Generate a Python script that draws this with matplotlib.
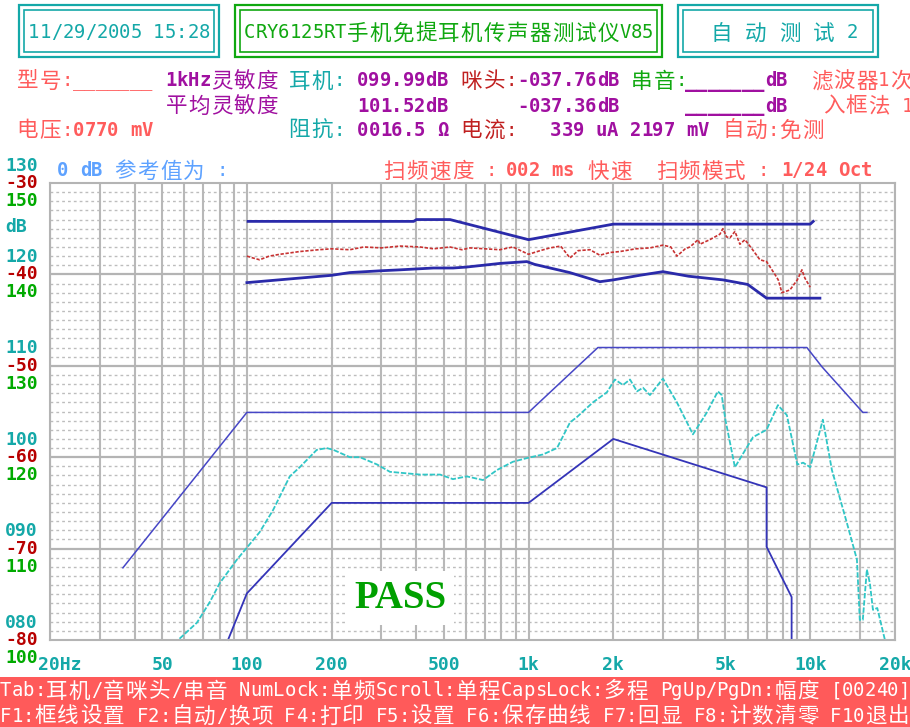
import matplotlib.pyplot as plt
import matplotlib.transforms as mtransforms
from matplotlib.patches import Rectangle

W, H = 910, 727
CW = 11.375  # width of one text cell (screen is 80 columns wide)

# colours of the tester screen
CYAN = '#14a8a8'
GREEN = '#10a810'
PURPLE = '#a010a0'
SALMON = '#ff5c5c'
DARKRED = '#c02020'
LIGHTBLUE = '#5ea2ff'

# upper band (sensitivity), levels on the red dB scale
top_hi_f = [101, 391, 400, 526, 1000, 2000, 10000, 10250]
top_hi_db = [-34.2, -34.2, -34.0, -34.0, -36.2, -34.5, -34.5, -34.2]
top_lo_f = [100, 200, 232, 300, 350, 460, 540, 600, 690, 791, 986, 1050, 1400, 1791,
            2000, 2480, 3000, 3700, 4900, 6000, 7000, 10825]
top_lo_db = [-40.9, -40.1, -39.8, -39.6, -39.5, -39.3, -39.3, -39.2, -39.0, -38.8, -38.6,
             -38.9, -39.8, -40.8, -40.6, -40.1, -39.7, -40.2, -40.6, -41.1, -42.6, -42.6]
red_f = [100, 105, 111, 120, 131, 154, 180, 200, 232, 260, 300, 350, 412, 460, 526, 580,
         619, 700, 791, 880, 1000, 1100, 1192, 1300, 1403, 1500, 1652, 1791, 1950, 2110,
         2400, 2698, 3000, 3200, 3363, 3600, 3741, 4000, 4059, 4400, 4780, 4898, 5050,
         5188, 5404, 5630, 5865, 6211, 6630, 7000, 7493, 7700, 7935, 8473, 9000, 9345,
         9571, 10000]
red_db = [-38.0, -38.2, -38.4, -38.0, -37.8, -37.5, -37.3, -37.2, -37.3, -37.0, -37.1,
          -36.9, -37.0, -37.2, -37.0, -37.3, -37.1, -37.2, -37.3, -37.0, -37.8, -37.4,
          -37.1, -36.9, -38.2, -37.4, -37.3, -37.9, -37.6, -37.5, -37.2, -37.1, -36.8,
          -37.0, -38.0, -37.2, -37.0, -36.2, -36.7, -36.2, -35.6, -35.0, -35.9, -36.0,
          -35.3, -36.7, -36.2, -37.2, -38.4, -38.6, -40.0, -40.6, -42.0, -41.7, -40.6,
          -39.5, -40.4, -41.4]

# lower band (frequency response)
hi2_f = [36.3, 100, 1000, 1763, 9730, 11000, 15380, 15890]
hi2_db = [-72.1, -55.1, -55.1, -48.0, -48.0, -50.1, -55.1, -55.1]
lo2_f = [85.7, 100, 200, 1000, 2000, 7000, 7000, 8590, 8590]
lo2_db = [-80.0, -74.9, -65.0, -65.0, -58.0, -63.3, -69.8, -75.3, -80.0]
cyan_f = [20, 57, 66.5, 74, 80, 92.2, 100, 111, 123.8, 142, 154, 177, 192, 203, 232, 252,
          290, 322, 350, 412, 485, 539, 604, 689, 773, 880, 986, 1125, 1262, 1403, 1486,
          1693, 1897, 2026, 2164, 2292, 2426, 2548, 2698, 3000, 3363, 3834, 4297, 4700,
          4850, 5000, 5404, 5962, 6270, 7000, 7680, 8263, 9000, 9440, 10000, 11090, 11940,
          13500, 14650, 15000, 15370, 15890, 16290, 16700, 17300, 18420, 20000]
cyan_db = [-80.0, -80.0, -78.1, -75.8, -73.8, -71.2, -69.9, -68.2, -65.8, -62.1, -61.1,
           -59.2, -59.0, -59.2, -60.0, -60.0, -60.8, -61.6, -61.7, -61.9, -61.9, -62.4,
           -62.1, -62.5, -61.4, -60.5, -60.1, -59.7, -59.0, -56.2, -55.6, -54.0, -52.9,
           -51.5, -52.1, -51.5, -52.8, -52.4, -53.2, -51.4, -54.0, -57.5, -55.1, -52.8,
           -53.2, -55.9, -61.1, -58.9, -57.8, -57.0, -54.3, -55.4, -60.8, -60.6, -61.1,
           -55.9, -61.4, -67.2, -71.2, -77.8, -77.8, -72.3, -73.8, -76.7, -76.5, -80.0,
           -80.0]

# axis labels
level_ticks = [-30, -40, -50, -60, -70, -80]
cyan_labels = ['130', '120', '110', '100', '090', '080']
red_labels = ['-30', '-40', '-50', '-60', '-70', '-80']
green_labels = ['150', '140', '130', '120', '110', '100']
freq_ticks = [20, 50, 100, 200, 500, 1000, 2000, 5000, 10000, 20000]
freq_labels = ['20Hz', '50', '100', '200', '500', '1k', '2k', '5k', '10k', '20k']

grid_f = ([20, 30, 40, 50, 60, 70, 80, 90] + [f * 10 for f in range(10, 100, 10)]
          + [f * 100 for f in range(10, 100, 10)] + [10000, 15000, 20000])

fig = plt.figure(figsize=(W / 100, H / 100), dpi=100)

# the plot area
ax = fig.add_axes([50 / W, (H - 640) / H, 845 / W, 457 / H])
ax.set_xscale('log')
ax.set_xlim(20, 20000)
ax.set_ylim(-80, -30)
ax.set_xticks([])
ax.set_yticks([])
ax.minorticks_off()
for s in ax.spines.values():
    s.set_color('#b4b4b4')
    s.set_linewidth(1.5)

for v in range(-79, -30):
    if v % 10:
        ax.axhline(v, color='#bdbdbd', lw=1.0, ls=(0, (2, 2.2)))
for f in grid_f:
    ax.axvline(f, color='#b8b8b8', lw=1.5)
for v in level_ticks[1:-1]:
    ax.axhline(v, color='#b4b4b4', lw=1.6)

ax.plot(top_hi_f, top_hi_db, color='#2a2aaa', lw=2, clip_on=False)
ax.plot(top_lo_f, top_lo_db, color='#2a2aaa', lw=2, clip_on=False)
ax.plot(red_f, red_db, color='#c83232', lw=1.2, ls=(0, (2, 1)))
ax.plot(hi2_f, hi2_db, color='#4646c6', lw=1.1, clip_on=False)
ax.plot(lo2_f, lo2_db, color='#3434b8', lw=1.3, clip_on=False)
ax.plot(cyan_f, cyan_db, color='#30c6c6', lw=1.3, ls=(0, (3, 1)), clip_on=False)

# left scales: cyan above, red on, green below each major line
ytr = mtransforms.blended_transform_factory(ax.transAxes, ax.transData)
mono_b = dict(family='DejaVu Sans Mono', weight='bold', fontsize=13, ha='center', va='center')
for lv, c, r, g in zip(level_ticks, cyan_labels, red_labels, green_labels):
    ax.annotate(c, (-0.0337, lv), xycoords=ytr, xytext=(0, 12.5), textcoords='offset points',
                color=CYAN, **mono_b)
    ax.annotate(r, (-0.0337, lv), xycoords=ytr, xytext=(0, 0), textcoords='offset points',
                color='#b80000', **mono_b)
    ax.annotate(g, (-0.0337, lv), xycoords=ytr, xytext=(0, -13), textcoords='offset points',
                color='#00aa00', **mono_b)
ax.annotate('dB', (-0.0337, -30), xycoords=ytr, xytext=(-4, -31.7), textcoords='offset points',
            color=CYAN, **mono_b)

xtr = mtransforms.blended_transform_factory(ax.transData, ax.transAxes)
for f, lab in zip(freq_ticks, freq_labels):
    if lab == '20Hz':
        ax.annotate(lab, (f, 0), xycoords=xtr, xytext=(-8.6, -18), textcoords='offset points',
                    color=CYAN, **{**mono_b, 'ha': 'left'})
    else:
        ax.annotate(lab, (f, 0), xycoords=xtr, xytext=(0, -18), textcoords='offset points',
                    color=CYAN, **mono_b)

# screen overlay in pixel coordinates
scr = fig.add_axes([0, 0, 1, 1], zorder=5)
scr.set_xlim(0, W)
scr.set_ylim(H, 0)
scr.set_axis_off()


def dos_text(x, y, s, color, bold=False):
    # one character per text cell, Chinese characters take two cells
    col = 0
    for ch in s:
        w = 2 if ord(ch) > 0x2E80 else 1
        if ch != ' ':
            cx = x + (col + w / 2) * CW
            if w == 2:
                scr.text(cx, y + 7.5, ch, color=color, fontsize=15.5,
                         family='Noto Sans CJK SC', ha='center', va='baseline')
            else:
                scr.text(cx, y + 6.5, ch, color=color, fontsize=13.6,
                         family='DejaVu Sans Mono', weight='bold' if bold else 'normal',
                         ha='center', va='baseline')
        col += w


def double_box(x0, y0, x1, y1, color):
    scr.add_patch(Rectangle((x0, y0), x1 - x0, y1 - y0, fill=False, ec=color, lw=1.6))
    scr.add_patch(Rectangle((x0 + 5, y0 + 5), x1 - x0 - 10, y1 - y0 - 10, fill=False,
                            ec=color, lw=1.2))


double_box(19, 5, 219, 57, CYAN)
double_box(235, 5, 662, 57, GREEN)
double_box(678, 5, 878, 57, CYAN)
dos_text(28, 32, '11/29/2005 15:28', CYAN)
dos_text(244, 32, 'CRY6125RT手机免提耳机传声器测试仪V85', GREEN)
dos_text(710, 32, '自 动 测 试 2', CYAN)

dos_text(16, 80, '型号:_______', SALMON)
dos_text(165, 80, '1kHz', PURPLE, bold=True)
dos_text(210.5, 80, '灵敏度', PURPLE)
dos_text(288, 80, '耳机:', CYAN)
dos_text(357, 80, '099.99dB', PURPLE, bold=True)
dos_text(460, 80, '咪头:', DARKRED)
dos_text(517, 80, '-037.76dB', PURPLE, bold=True)
dos_text(630, 80, '串音:', GREEN)
dos_text(685, 80, '_______dB', PURPLE, bold=True)
dos_text(810, 80, '滤波器1次', SALMON)

dos_text(165, 105, '平均灵敏度', PURPLE)
dos_text(357, 105, '101.52dB', PURPLE, bold=True)
dos_text(517, 105, '-037.36dB', PURPLE, bold=True)
dos_text(685, 105, '_______dB', PURPLE, bold=True)
dos_text(822, 105, '入框法 1', SALMON)

dos_text(16, 129, '电压:', SALMON)
dos_text(73, 129, '0770 mV', SALMON, bold=True)
dos_text(288, 129, '阻抗:', CYAN)
dos_text(357, 129, '0016.5 Ω', PURPLE, bold=True)
dos_text(460, 129, '电流:', DARKRED)
dos_text(550, 129, '339 uA 2197 mV', PURPLE, bold=True)
dos_text(722, 129, '自动:免测', SALMON)

dos_text(57, 170, '0 dB', LIGHTBLUE, bold=True)
dos_text(114, 170, '参考值为 :', LIGHTBLUE)
dos_text(383, 170, '扫频速度 :', SALMON)
dos_text(506, 170, '002 ms', SALMON, bold=True)
dos_text(587, 170, '快速  扫频模式 :', SALMON)
dos_text(781, 170, '1/24 Oct', SALMON, bold=True)

scr.text(400, 598, 'PASS', fontsize=28, family='Liberation Serif', weight='bold',
         color='#00a000', ha='center', va='center',
         bbox=dict(fc='white', ec='none', pad=6))

# key help bar
scr.add_patch(Rectangle((0, 677), W, H - 677, color='#ff5a5a', lw=0))
dos_text(0, 690, 'Tab:耳机/音咪头/串音 NumLock:单频Scroll:单程CapsLock:多程 PgUp/PgDn:幅度 [00240]', 'white')
dos_text(0, 715, 'F1:框线设置 F2:自动/换项 F4:打印 F5:设置 F6:保存曲线 F7:回显 F8:计数清零 F10退出', 'white')

fig.savefig('out.png', dpi=100)
